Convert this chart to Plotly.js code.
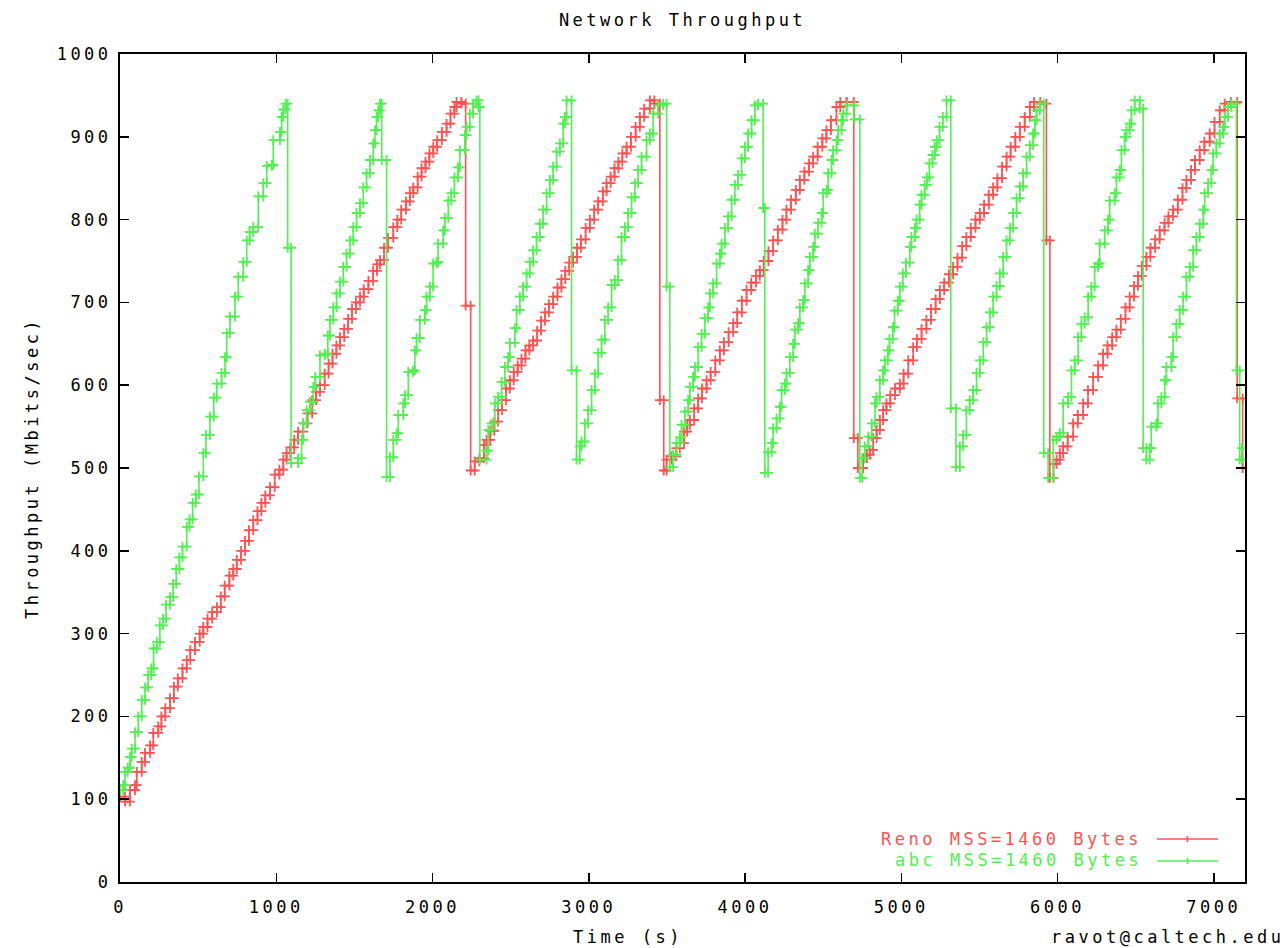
<!DOCTYPE html>
<html>
<head>
<meta charset="utf-8">
<script src="https://cdn.plot.ly/plotly-3.0.1.min.js"></script>
<style>
  html, body { margin: 0; padding: 0; background: #ffffff; }
  #chart { width: 1287px; height: 948px; }
  svg text { letter-spacing: 3.5px; }
</style>
</head>
<body>
<div id="chart"></div>
<script>
// ---- Data (time in s, throughput in Mbits/sec) ----
const renoName = 'Reno MSS=1460 Bytes';
const abcName = 'abc MSS=1460 Bytes';

const renoTime = [
  0,32,64,96,107,139,160,192,213,245,265,290,320,345,370,400,427,450,480,510,533,560,590,620,645,670,700,725,747,775,
  800,825,853,880,905,930,960,990,1020,1045,1066,1090,1115,1140,1173,1200,1230,1255,1280,1310,1335,1360,1385,1408,1435,1460,1485,1510,1536,1560,
  1590,1620,1645,1664,1690,1715,1749,1775,1800,1830,1855,1877,1905,1930,1955,1980,2005,2030,2060,2090,2115,2140,2154,2185,2212,2244,
  2270,2300,2330,2346,2370,2395,2420,2445,2470,2495,2520,2545,2570,2595,2620,2644,2670,2695,2720,2745,
  2772,2800,2825,2850,2875,2900,2925,2950,2980,3007,3035,3060,3090,3114,3140,3165,3190,3215,3242,3270,
  3300,3327,3355,3391,3420,3455,3480,
  3498,3530,3560,3583,3610,3630,3647,3675,3700,3725,3754,3780,3810,3839,3865,3895,3925,3950,3980,4010,
  4040,4070,4095,4120,4150,4180,4210,4240,4265,4295,4325,4351,4380,4410,4436,4465,4495,4521,4550,4585,
  4610,4650,4696,4722,
  4756,4780,4799,4820,4842,4863,4884,4905,4930,4960,4991,5015,5045,5076,5100,5130,5161,5190,5220,5247,
  5275,5305,5332,5360,5390,5417,5445,5475,5503,5530,5560,5588,5615,5645,5674,5700,5730,5759,5790,5823,
  5850,5890,5929,5951,
  5975,5994,6015,6036,6065,6100,6130,6164,6195,6228,6260,6292,6320,6350,6377,6405,6435,6462,6490,6515,
  6540,6569,6595,6625,6654,6685,6710,6740,6770,6800,6825,6855,6880,6910,6940,6974,7005,7038,7070,7110,
  7150,7185
];
const renoThroughput = [
  103,97,111,117,133,145,156,165,180,188,200,210,222,236,246,258,268,280,290,300,308,318,326,332,345,358,370,378,389,400,
  412,425,437,448,458,467,477,492,498,510,518,525,534,544,554,566,582,592,600,614,626,638,648,658,668,680,692,700,707,716,
  726,738,746,751,766,778,791,800,812,822,832,839,852,862,870,880,888,896,906,916,928,936,942,940,696,497,
  508,512,528,534,545,556,570,582,596,606,616,624,632,642,648,654,666,678,688,698,
  707,718,728,738,748,755,766,776,790,800,812,822,834,844,852,862,870,880,888,900,
  912,924,934,944,940,582,497,
  510,514,524,530,544,552,558,572,584,596,606,616,630,642,652,664,675,688,702,715,
  724,732,739,750,762,775,788,800,812,824,836,848,858,868,876,888,898,908,920,936,
  942,942,536,500,
  512,516,522,536,546,558,570,578,588,596,602,614,630,646,656,668,679,692,704,715,
  724,734,743,754,768,779,790,800,808,818,830,839,850,864,876,888,900,912,924,936,
  942,940,775,488,
  505,510,518,526,538,554,564,578,594,610,624,638,648,658,667,680,694,707,720,732,
  744,755,766,776,787,796,804,812,824,838,848,860,872,884,894,904,918,932,940,942,
  584,500
];

const abcTime = [
  0,21,32,50,64,75,96,117,139,160,180,200,215,235,255,275,295,320,340,360,380,400,427,445,465,485,505,533,550,576,
  600,619,650,672,683,704,736,757,789,811,830,853,885,917,939,971,981,1024,1034,1045,1060,1073,1095,
  1140,1162,1173,1194,1216,1237,1250,1280,1311,1330,1344,1365,1386,1408,1429,1450,1472,1493,1514,1536,
  1557,1578,1600,1621,1632,1642,1653,1664,1675,1706,
  1728,1749,1770,1781,1813,1824,1845,1876,1887,1898,1919,1951,1962,1983,2004,2026,2036,2068,2079,2101,
  2120,2140,2163,2175,2207,2218,2239,2260,2282,2295,2303,
  2346,2357,2378,2399,2420,2442,2463,2484,2495,2527,2538,2559,2580,2602,2623,2644,2666,2687,2708,2730,
  2751,2772,2794,2815,2836,2847,2858,2890,2922,
  2943,2954,2975,2996,3018,3039,3060,3082,3103,3124,3146,3167,3188,3210,3231,3252,3274,3295,3316,3338,
  3370,3391,3412,3444,3476,3498,3519,
  3540,3562,3583,3594,3615,3636,3647,3668,3679,3700,3722,3743,3764,3775,3796,3818,3839,3850,3871,3892,
  3914,3935,3956,3978,3999,4020,4042,4063,4084,4116,4127,
  4148,4170,4180,4202,4223,4234,4255,4266,4287,4308,4319,4340,4351,4372,4383,4404,4415,4436,4447,4468,
  4490,4500,4522,4532,4554,4564,4586,4596,4618,4628,4650,4700,4735,
  4750,4767,4789,4811,4832,4842,4863,4884,4895,4914,4925,4946,4957,4978,4991,5010,5030,5055,5065,5087,
  5098,5118,5130,5150,5164,5180,5200,5215,5227,5245,5266,5290,5317,5350,
  5375,5396,5417,5438,5460,5482,5503,5525,5546,5567,5588,5610,5631,5652,5674,5695,5716,5738,5759,5780,
  5802,5823,5844,5855,5866,5887,5912,5940,
  5973,5994,6015,6036,6068,6089,6110,6132,6153,6174,6196,6217,6238,6260,6270,6302,6324,6334,6366,6377,
  6398,6409,6430,6441,6462,6473,6494,6526,6548,6569,
  6590,6600,6633,6643,6665,6686,6697,6729,6740,6761,6782,6804,6825,6846,6868,6889,6910,6932,6942,6964,
  6985,6996,7017,7038,7060,7070,7092,7113,7145,7166,7180
];
const abcThroughput = [
  111,117,133,138,151,161,181,200,220,235,250,258,282,290,310,318,335,344,360,378,392,405,429,438,458,468,490,518,540,562,
  585,602,615,634,663,683,707,731,749,775,785,791,828,844,865,866,896,906,924,933,940,766,506,
  512,534,554,570,580,598,610,636,638,660,679,694,711,725,743,759,775,791,808,820,
  839,856,872,892,908,924,932,940,872,489,
  513,534,542,564,578,588,616,618,642,657,679,691,707,719,747,749,771,787,802,823,
  832,851,863,884,902,912,928,940,944,936,510,
  521,546,554,578,586,604,622,634,651,669,691,707,719,735,749,763,779,795,812,832,
  848,864,882,892,916,924,944,618,510,
  526,532,554,570,594,614,639,655,679,694,721,727,751,779,791,808,827,844,860,876,
  896,904,928,938,940,719,501,
  516,530,537,552,568,582,598,610,622,646,662,681,694,711,723,747,759,771,790,804,
  824,842,854,874,888,904,920,938,940,814,494,
  519,530,548,560,574,594,602,615,634,650,667,675,694,703,723,739,755,767,783,796,
  808,832,836,856,872,884,896,908,920,928,938,921,488,
  512,526,538,554,578,586,606,618,630,642,656,670,690,702,719,735,748,767,779,790,
  800,818,830,842,851,868,878,888,896,912,924,944,572,501,
  526,540,570,582,594,615,630,652,670,688,707,720,735,755,775,790,808,826,840,856,
  876,890,904,920,932,940,518,488,
  534,538,542,578,586,618,630,658,674,682,707,719,743,747,771,787,800,823,832,851,
  860,884,900,908,916,932,944,934,524,510,
  524,550,554,578,586,606,622,634,658,674,691,707,731,743,763,779,795,812,832,844,
  860,880,892,904,912,924,936,940,618,510,524
];

const xTickValues = [0, 1000, 2000, 3000, 4000, 5000, 6000, 7000];
const yTickValues = [0, 100, 200, 300, 400, 500, 600, 700, 800, 900, 1000];

// ---- Styles ----
const RED = '#ff5252';
const GREEN = '#52f052';
const FONT = 'DejaVu Sans Mono, Liberation Mono, monospace';

// Each sample holds its value until the next sample (pairs of equal readings):
// add the end point of each level so both ends carry a "+" like the original.
function levels(t, v) {
  const x = [], y = [];
  for (let i = 0; i < t.length; i++) {
    if (i > 0) { x.push(t[i]); y.push(v[i - 1]); }
    x.push(t[i]); y.push(v[i]);
  }
  return { x, y };
}

const reno = levels(renoTime, renoThroughput);
const abc = levels(abcTime, abcThroughput);

function trace(d, name, color) {
  return {
    type: 'scatter', mode: 'lines+markers', name: name,
    x: d.x, y: d.y,
    line: { color: color, width: 1.6 },
    marker: { symbol: 'cross-thin-open', size: 7, color: color, line: { color: color, width: 1.8 } },
    showlegend: false, hoverinfo: 'skip'
  };
}

const data = [trace(reno, renoName, RED), trace(abc, abcName, GREEN)];

const axisCommon = {
  showgrid: false, zeroline: false,
  showline: true, linecolor: '#000', linewidth: 2, mirror: 'allticks',
  ticks: 'inside', ticklen: 9, tickwidth: 1.5, tickcolor: '#000',
  tickfont: { family: FONT, size: 17, color: '#000' }
};

const layout = {
  width: 1287, height: 948,
  margin: { l: 120, r: 42, t: 54, b: 66 },
  paper_bgcolor: '#fff', plot_bgcolor: '#fff',
  showlegend: false,
  title: { text: 'Network Throughput', font: { family: FONT, size: 17, color: '#000' },
           x: 0.5, xref: 'paper', xanchor: 'center', y: 1 - 20 / 948, yref: 'container', yanchor: 'middle' },
  xaxis: Object.assign({}, axisCommon, {
    range: [0, 7200], tickvals: xTickValues, ticktext: xTickValues.map(String),
    ticklabelstandoff: 9
  }),
  yaxis: Object.assign({}, axisCommon, {
    range: [0, 1000], tickvals: yTickValues, ticktext: yTickValues.map(String),
    ticklabelstandoff: 3,
    title: { text: 'Throughput (Mbits/sec)', font: { family: FONT, size: 17, color: '#000' }, standoff: 14 }
  }),
  annotations: [
    { text: 'Time (s)', xref: 'paper', yref: 'paper', x: (628 - 120) / 1125, y: (882 - 937) / 828,
      xanchor: 'center', yanchor: 'middle', showarrow: false, font: { family: FONT, size: 17, color: '#000' } },
    { text: 'ravot@caltech.edu', xref: 'paper', yref: 'paper', x: (1287 - 120) / 1125, y: (882 - 937) / 828,
      xanchor: 'right', yanchor: 'middle', showarrow: false, font: { family: FONT, size: 17, color: '#000' } },
    { text: renoName, xref: 'paper', yref: 'paper', x: (1144 - 120) / 1125, y: (882 - 839) / 828,
      xanchor: 'right', yanchor: 'middle', showarrow: false, font: { family: FONT, size: 17, color: RED } },
    { text: abcName, xref: 'paper', yref: 'paper', x: (1144 - 120) / 1125, y: (882 - 860) / 828,
      xanchor: 'right', yanchor: 'middle', showarrow: false, font: { family: FONT, size: 17, color: GREEN } }
  ],
  shapes: [
    { type: 'line', xref: 'paper', yref: 'paper', x0: (1157 - 120) / 1125, x1: (1218 - 120) / 1125,
      y0: (882 - 839) / 828, y1: (882 - 839) / 828, line: { color: RED, width: 1.6 } },
    { type: 'line', xref: 'paper', yref: 'paper', x0: (1187.5 - 120) / 1125, x1: (1187.5 - 120) / 1125,
      y0: (882 - 842) / 828, y1: (882 - 836) / 828, line: { color: RED, width: 1.6 } },
    { type: 'line', xref: 'paper', yref: 'paper', x0: (1157 - 120) / 1125, x1: (1218 - 120) / 1125,
      y0: (882 - 861) / 828, y1: (882 - 861) / 828, line: { color: GREEN, width: 1.6 } },
    { type: 'line', xref: 'paper', yref: 'paper', x0: (1187.5 - 120) / 1125, x1: (1187.5 - 120) / 1125,
      y0: (882 - 864) / 828, y1: (882 - 858) / 828, line: { color: GREEN, width: 1.6 } }
  ]
};

Plotly.newPlot('chart', data, layout, { displayModeBar: false, staticPlot: true });
</script>
</body>
</html>
